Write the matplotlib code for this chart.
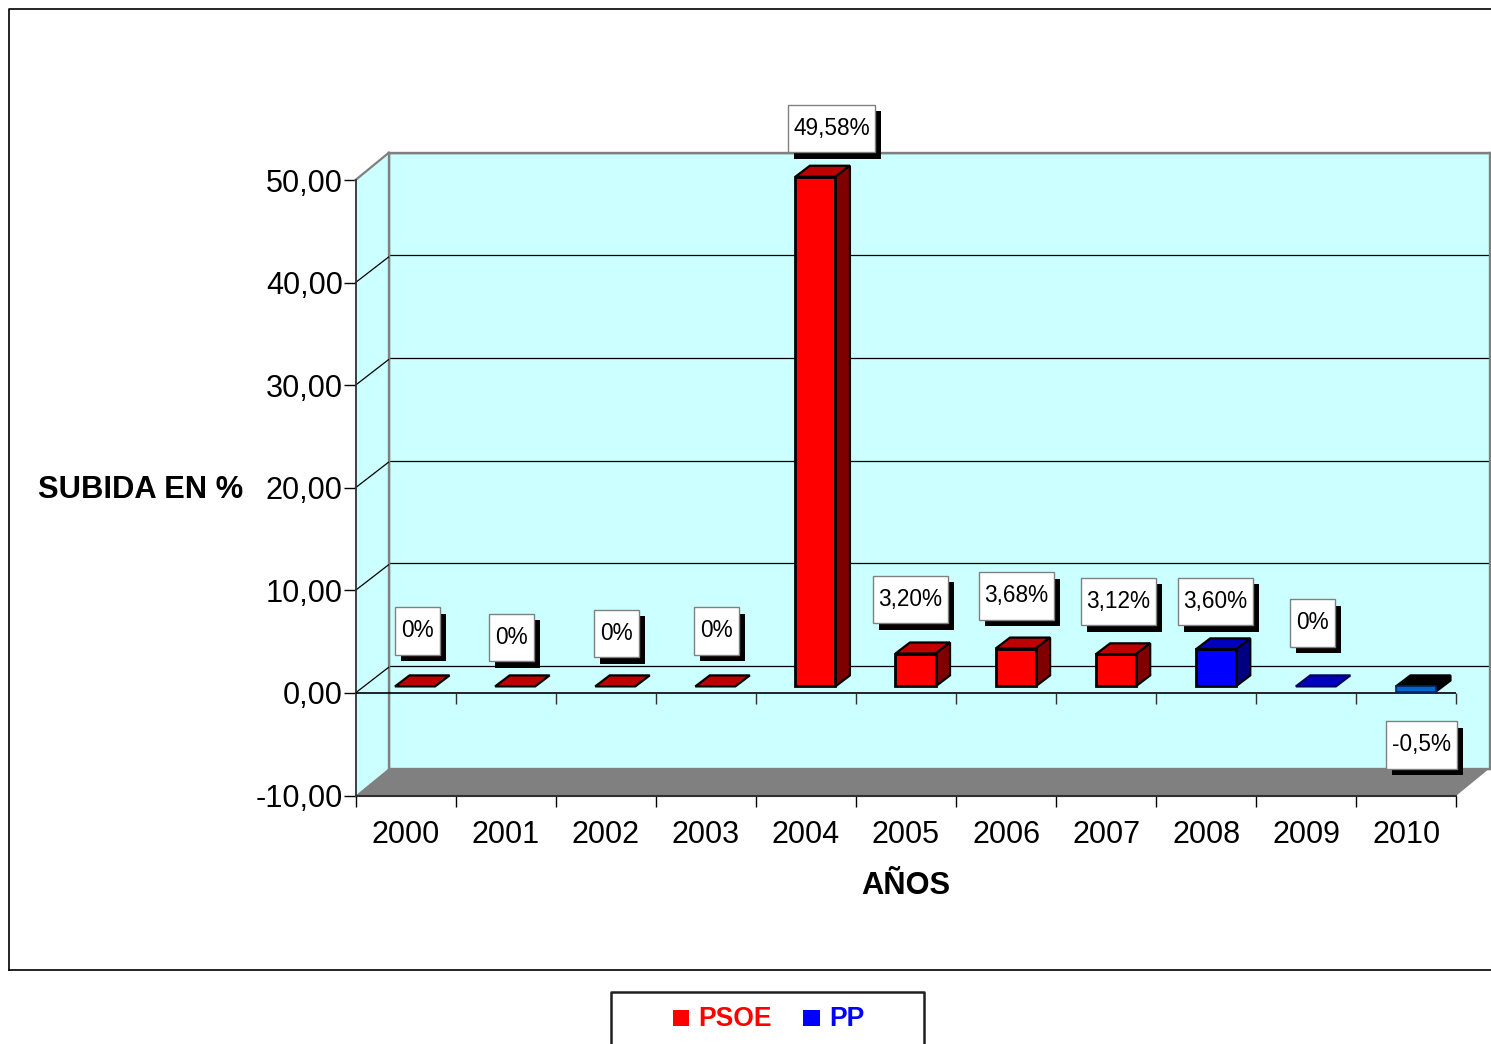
import matplotlib
matplotlib.use("Agg")
import matplotlib.pyplot as plt
from matplotlib.patches import Polygon, Rectangle
from matplotlib.lines import Line2D
from matplotlib.transforms import IdentityTransform
from matplotlib.ticker import FuncFormatter

years = [2000, 2001, 2002, 2003, 2004, 2005, 2006, 2007, 2008, 2009, 2010]
values = [0, 0, 0, 0, 49.58, 3.20, 3.68, 3.12, 3.60, 0, -0.5]
parties = ["PSOE"] * 8 + ["PP"] * 3
value_labels = ["0%", "0%", "0%", "0%", "49,58%", "3,20%", "3,68%", "3,12%", "3,60%", "0%", "-0,5%"]
y_ticks = [-10, 0, 10, 20, 30, 40, 50]

# layout of data labels, pixels relative to category centre / value on the front plane
label_dx = [12, 5.5, 11, 11, 25.5, 4.3, 10.2, 12.2, 9.1, 6, 15]
label_dy = [-62, -55.5, -59.5, -62, -55.8, -60.8, -59.4, -59.6, -54.7, -70, 46.9]
label_w = [45, 45, 45, 45, 87, 75, 75, 75, 75, 45, 71]

W, H = 1491, 1044
plt.rcParams["font.family"] = ["Liberation Sans", "DejaVu Sans"]
fig = plt.figure(figsize=(W / 100, H / 100), dpi=100, facecolor="white")
ID = IdentityTransform()


def rect(l, t, r, b):
    return [l / W, 1 - b / H, (r - l) / W, (b - t) / H]


def P(x, y):
    return (x, H - y)


WALL = "#CCFFFF"
GRAY = "#808080"
front = dict(l=355.5, r=1456.5, t=180, b=795.5)
DX, DY = 33, 27

# back wall
back = fig.add_axes(rect(front["l"] + DX, front["t"] - DY - 0.5, front["r"] + DX, front["b"] - DY), zorder=1)
back.set_facecolor(WALL)
back.set_xlim(0, 11)
back.set_ylim(-10, 50)
back.set_xticks([])
back.set_yticks(y_ticks)
back.tick_params(left=False, labelleft=False)
back.grid(axis="y", color="black", lw=0.9)
for s in back.spines.values():
    s.set_color(GRAY)
    s.set_linewidth(1.7)

# front plane with axes
ax = fig.add_axes(rect(front["l"], front["t"], front["r"], front["b"]), zorder=2)
ax.patch.set_alpha(0)
ax.set_xlim(0, 11)
ax.set_ylim(-10, 50)
for s in ("top", "right"):
    ax.spines[s].set_visible(False)
ax.spines["left"].set_color("#303030")
ax.spines["left"].set_linewidth(1.3)
ax.spines["bottom"].set_color("#303030")
ax.spines["bottom"].set_linewidth(1.5)
ax.set_yticks(y_ticks)
ax.yaxis.set_major_formatter(FuncFormatter(lambda v, _: f"{v:.2f}".replace(".", ",")))
ax.tick_params(axis="y", length=8.6, width=1, labelsize=22.1, pad=0.5)
ax.set_xticks(range(12))
ax.set_xticklabels([])
ax.set_xticks([i + 0.5 for i in range(11)], minor=True)
ax.set_xticklabels([str(y) for y in years], minor=True)
ax.tick_params(axis="x", which="major", length=8, width=1)
ax.tick_params(axis="x", which="minor", length=0, labelsize=22, pad=17.8)
ax.axhline(0, color="black", lw=1.2, zorder=3)
ax.vlines(range(1, 12), -1.07, 0, color="#303030", lw=1, zorder=3, clip_on=False)

# left wall and floor
l, r, t, b = front["l"], front["r"], front["t"], front["b"]
ax.add_patch(Polygon([P(l, t), P(l + DX, t - DY), P(l + DX, b - DY), P(l, b)], transform=ID,
                     fc=WALL, ec="none", clip_on=False, zorder=1))
ax.add_patch(Polygon([P(l, b), P(r, b), P(r + DX, b - DY), P(l + DX, b - DY)], transform=ID,
                     fc=GRAY, ec="none", clip_on=False, zorder=1))
ax.add_line(Line2D(*zip(P(l, t), P(l + DX, t - DY)), transform=ID, color=GRAY, lw=1.6, clip_on=False, zorder=2))
ax.add_line(Line2D(*zip(P(l + DX, t - DY), P(l + DX, b - DY)), transform=ID, color=GRAY, lw=1.7, clip_on=False, zorder=2))
for v in y_ticks[1:-1]:
    _, yd = ax.transData.transform((0, v))
    ax.add_line(Line2D([l, l + DX], [yd, yd + DY - 1.5], transform=ID, color="black", lw=0.9, clip_on=False, zorder=2))

# bars, on a plane slightly behind the front
bars = fig.add_axes(rect(365, 686.4 - 50 * 10.28, 1466, 686.4 + 10 * 10.28), zorder=3)
bars.patch.set_alpha(0)
bars.set_xlim(0, 11)
bars.set_ylim(-10, 50)
bars.axis("off")
face = {"PSOE": "#FF0000", "PP": "#0000FF"}
top_c = {"PSOE": "#BF0000", "PP": "#0000BF"}
side_c = {"PSOE": "#800000", "PP": "#000080"}
bw = 0.4
ddx, ddy = 14.5, 11
xs = [i + 0.5 for i in range(len(years))]
for x, v, p in zip(xs, values, parties):
    neg = v < 0
    ec = "black" if p == "PSOE" or v != 0 else "#000060"
    hi, lo = max(v, 0), min(v, 0)
    x0, yhi = bars.transData.transform((x - bw / 2, hi))
    x1, ylo = bars.transData.transform((x + bw / 2, lo))
    bars.add_patch(Polygon([(x0, yhi), (x1, yhi), (x1 + ddx, yhi + ddy), (x0 + ddx, yhi + ddy)], transform=ID,
                           fc="black" if neg else top_c[p], ec=ec, lw=1.6, clip_on=False, joinstyle="miter", zorder=2))
    if v != 0:
        bars.add_patch(Polygon([(x1, yhi), (x1 + ddx, yhi + ddy), (x1 + ddx, ylo + ddy), (x1, ylo)], transform=ID,
                               fc="black" if neg else side_c[p], ec="black", lw=1.6, clip_on=False, zorder=2))
        bars.bar(x, v, bw, color="#0066CC" if neg else face[p], edgecolor="#00205F" if neg else "black",
                 linewidth=1.2 if neg else 2, zorder=3, clip_on=False)

# value labels
BH = 47.5
for i, (x, v, txt) in enumerate(zip(xs, values, value_labels)):
    cx, cy = ax.transData.transform((x, v))
    cx += label_dx[i]
    cy -= label_dy[i]
    w = label_w[i]
    bars.add_patch(Rectangle((cx - w / 2 + 6, cy - BH / 2 - 6.5), w, BH, transform=ID, fc="black", ec="none",
                             clip_on=False, zorder=5))
    bars.add_patch(Rectangle((cx - w / 2, cy - BH / 2), w, BH, transform=ID, fc="white", ec=GRAY, lw=1,
                             clip_on=False, zorder=6))
    bars.text(cx, cy, txt, transform=ID, ha="center", va="center", fontsize=16.3, color="black",
              clip_on=False, zorder=7)

# axis titles
fig.text(140.5 / W, 1 - 490 / H, "SUBIDA EN %", ha="center", va="center", fontsize=22.2, fontweight="bold")
fig.text(906 / W, 1 - 886.5 / H, "AÑOS", ha="center", va="center", fontsize=22.2, fontweight="bold")

# outer frame
for pts in ([(9, 970), (9, 9), (W, 9)], [(9, 970), (W, 970)]):
    xp, yp = zip(*[(a / W, 1 - c / H) for a, c in pts])
    fig.add_artist(Line2D(xp, yp, color="black", lw=1.2))

# legend box
xp, yp = zip(*[(a / W, 1 - c / H) for a, c in [(611, H), (611, 992), (923.5, 992), (923.5, H)]])
fig.add_artist(Line2D(xp, yp, color="#202020", lw=1.8))
for name, sq, tx in zip(["PSOE", "PP"], [672.5, 803], [698, 829]):
    fig.add_artist(Rectangle((sq / W, 1 - 1026 / H), 16.5 / W, 16.5 / H, transform=fig.transFigure,
                             fc=face[name], ec="none"))
    fig.text(tx / W, 1 - 1019 / H, name, ha="left", va="center", fontsize=19.1, fontweight="bold", color=face[name])

fig.savefig("out.png", dpi=100, facecolor="white")
